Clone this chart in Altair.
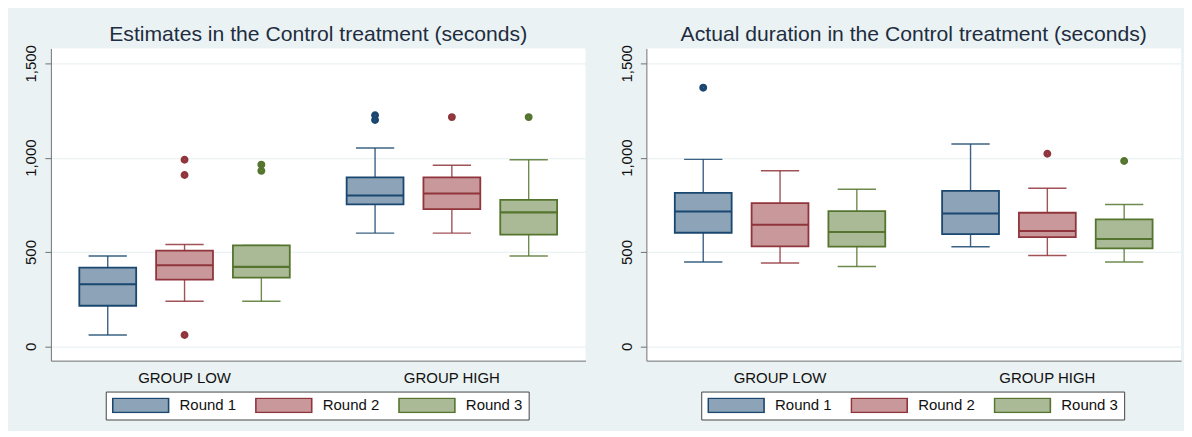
import altair as alt
import pandas as pd

# ---------------- data ----------------
groups = ["GROUP LOW", "GROUP HIGH"]
rounds = ["Round 1", "Round 2", "Round 3"]

# order of rows: (LOW R1, LOW R2, LOW R3, HIGH R1, HIGH R2, HIGH R3)
est_lo  = [60, 239, 239, 600, 600, 479]
est_q1  = [215, 354, 364, 752, 727, 592]
est_med = [329, 430, 421, 799, 810, 710]
est_q3  = [417, 507, 535, 896, 896, 776]
est_hi  = [479, 540, 535, 1051, 960, 989]
est_out_group = ["GROUP LOW", "GROUP LOW", "GROUP LOW", "GROUP LOW", "GROUP LOW",
                 "GROUP HIGH", "GROUP HIGH", "GROUP HIGH", "GROUP HIGH"]
est_out_round = ["Round 2", "Round 2", "Round 2", "Round 3", "Round 3",
                 "Round 1", "Round 1", "Round 2", "Round 3"]
est_out_value = [989, 908, 60, 963, 930, 1225, 1200, 1215, 1215]

act_lo  = [447, 442, 423, 528, 481, 447]
act_q1  = [602, 530, 528, 595, 579, 519]
act_med = [715, 644, 606, 704, 611, 569]
act_q3  = [813, 759, 717, 824, 708, 673]
act_hi  = [991, 931, 833, 1072, 838, 752]
act_out_group = ["GROUP LOW", "GROUP HIGH", "GROUP HIGH"]
act_out_round = ["Round 1", "Round 2", "Round 3"]
act_out_value = [1371, 1021, 982]

titles = ["Estimates in the Control treatment (seconds)",
          "Actual duration in the Control treatment (seconds)"]

dark = ["#1A476F", "#90353B", "#55752F"]
light = ["#8DA3B7", "#C8989B", "#AABA97"]

FONT = "Liberation Sans, Arial, Helvetica, sans-serif"
BG = "#EAF2F3"


def stats_frame(lo, q1, med, q3, hi):
    rows = []
    i = 0
    for g in groups:
        for r in rounds:
            rows.append({"group": g, "round": r, "lo": lo[i], "q1": q1[i],
                         "med": med[i], "q3": q3[i], "hi": hi[i]})
            i += 1
    return pd.DataFrame(rows)


def panel(stats, out, title):
    leg = alt.Legend(orient="none", legendX=55, legendY=344, direction="horizontal",
                     title=None,
                     symbolType="M-1,-0.257L1,-0.257L1,0.257L-1,0.257Z",
                     symbolSize=3136, symbolStrokeWidth=1.6, symbolOpacity=1,
                     labelFontSize=15, labelFont=FONT, labelColor="#111111",
                     labelOffset=10, columnPadding=18.5, padding=6,
                     strokeColor="#444444", fillColor="white", clipHeight=15)
    xenc = alt.X("group:N", sort=groups,
                 scale=alt.Scale(paddingInner=0, paddingOuter=0),
                 axis=alt.Axis(title=None, labelAngle=0, ticks=False,
                               domainColor="#707070", domainWidth=1,
                               labelFontSize=15, labelFont=FONT,
                               labelColor="#111111", labelPadding=10, grid=False))
    xoff = alt.XOffset("round:N", sort=rounds,
                       scale=alt.Scale(paddingInner=0.4805, paddingOuter=0.4805))
    yax = alt.Axis(title=None, values=[0, 500, 1000, 1500], format=",d",
                   labelAngle=270, labelAlign="center", labelBaseline="bottom",
                   labelPadding=6, tickSize=6, tickColor="#707070",
                   domainColor="#707070", gridColor=BG, gridWidth=1.3,
                   labelFontSize=15, labelFont=FONT, labelColor="#111111")
    yscale = alt.Scale(domain=[-76, 1579], nice=False, zero=False)
    col = alt.Color("round:N", sort=rounds,
                    scale=alt.Scale(domain=rounds, range=dark), legend=leg)
    fil = alt.Fill("round:N", sort=rounds,
                   scale=alt.Scale(domain=rounds, range=light), legend=leg)

    base = alt.Chart(stats).encode(x=xenc, xOffset=xoff)

    box = base.mark_bar(width=57, strokeWidth=1.8, opacity=1, filled=False).encode(
        y=alt.Y("q1:Q", scale=yscale, axis=yax), y2="q3:Q", color=col, fill=fil)
    lower = base.mark_rule(strokeWidth=1.4, opacity=0.85).encode(
        y=alt.Y("lo:Q", scale=yscale, axis=yax), y2="q1:Q", color=col)
    upper = base.mark_rule(strokeWidth=1.4, opacity=0.85).encode(
        y=alt.Y("q3:Q", scale=yscale, axis=yax), y2="hi:Q", color=col)
    cap_lo = base.mark_tick(size=37, thickness=0.05, strokeWidth=1.4, opacity=0.85,
                            filled=False).encode(
        y=alt.Y("lo:Q", scale=yscale, axis=yax), color=col)
    cap_hi = base.mark_tick(size=37, thickness=0.05, strokeWidth=1.4, opacity=0.85,
                            filled=False).encode(
        y=alt.Y("hi:Q", scale=yscale, axis=yax), color=col)
    med = base.mark_tick(size=55, thickness=0.05, strokeWidth=2, opacity=1,
                         filled=False).encode(
        y=alt.Y("med:Q", scale=yscale, axis=yax), color=col)
    pts = alt.Chart(out).mark_circle(size=14, strokeWidth=4.2, opacity=1,
                                     filled=False).encode(
        x=xenc, xOffset=xoff,
        y=alt.Y("value:Q", scale=yscale, axis=yax),
        color=col)

    return alt.layer(box, lower, upper, cap_lo, cap_hi, med, pts).properties(
        width=536, height=313,
        title=alt.TitleParams(title, fontSize=21.2, font=FONT, color="#1E2D40",
                              fontWeight="normal", anchor="middle", frame="group",
                              baseline="alphabetic", offset=-18),
    )


left_stats = stats_frame(est_lo, est_q1, est_med, est_q3, est_hi)
left_out = pd.DataFrame({"group": est_out_group, "round": est_out_round, "value": est_out_value})
right_stats = stats_frame(act_lo, act_q1, act_med, act_q3, act_hi)
right_out = pd.DataFrame({"group": act_out_group, "round": act_out_round, "value": act_out_value})

chart = alt.hconcat(
    panel(left_stats, left_out, titles[0]),
    panel(right_stats, right_out, titles[1]),
    spacing=33,
).resolve_scale(
    fill="independent", color="independent"
).resolve_legend(
    fill="independent", color="independent"
).properties(
    background=BG,
    padding={"left": 15, "top": 15, "right": 3, "bottom": 10},
).configure_view(
    fill="white", strokeWidth=0
)

chart.save("out.html", embed_options={"renderer": "svg", "actions": False})
